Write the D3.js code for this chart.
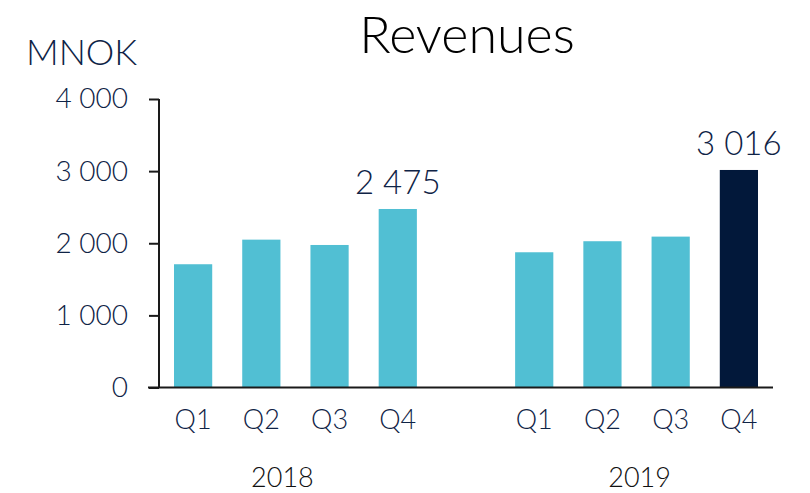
<!DOCTYPE html>
<html lang="en">
<head>
    <meta charset="UTF-8">
    <title>Revenues</title>
    <script src="https://d3js.org/d3.v7.min.js"></script>
    <style>
        body { margin: 0; background: #fff; }
        svg { display: block; font-family: Lato, "Open Sans", sans-serif; }
        .axis path, .axis line { stroke: #1a1a1a; stroke-width: 2px; }
        .axis text { fill: #0f2346; font-family: Lato, "Open Sans", sans-serif; font-size: 28px; font-weight: 300; }
    </style>
</head>
<body>
    <script>
        // Data
        const years = ["2018", "2019"];
        const quarters = ["Q1", "Q2", "Q3", "Q4"];
        const revenues2018 = [1709, 2050, 1976, 2475];
        const revenues2019 = [1875, 2028, 2092, 3016];
        const yTicks = [0, 1000, 2000, 3000, 4000];
        const labelled = ["2018-Q4", "2019-Q4"];

        const width = 810, height = 493;
        const x0 = 159, x1 = 773, y0 = 387.5, y1 = 99;

        const rows = [];
        revenues2018.forEach((v, i) => rows.push({ key: "2018-" + quarters[i], year: "2018", q: quarters[i], value: v }));
        revenues2019.forEach((v, i) => rows.push({ key: "2019-" + quarters[i], year: "2019", q: quarters[i], value: v }));

        // one empty slot between the two years
        const domain = rows.filter(d => d.year === "2018").map(d => d.key)
            .concat(["gap"], rows.filter(d => d.year === "2019").map(d => d.key));

        const x = d3.scaleBand().domain(domain).range([x0, x1]).paddingInner(0.44).paddingOuter(0.22);
        const y = d3.scaleLinear().domain([0, 4000]).range([y0, y1]);

        const svg = d3.select("body").append("svg")
            .attr("width", width)
            .attr("height", height);

        const fmt = v => d3.format(",")(v).replace(/,/g, " ");

        // Title and unit
        svg.append("text")
            .attr("x", 467).attr("y", 53)
            .attr("text-anchor", "middle")
            .style("font-size", "52px").style("font-weight", 300)
            .attr("fill", "#000")
            .text("Revenues");

        svg.append("text")
            .attr("x", 26).attr("y", 65)
            .style("font-size", "36px").style("font-weight", 300)
            .attr("fill", "#0f2346")
            .text("MNOK");

        // Bars
        svg.append("g").selectAll("rect")
            .data(rows)
            .join("rect")
            .attr("x", d => x(d.key))
            .attr("y", d => y(d.value))
            .attr("width", x.bandwidth())
            .attr("height", d => y(0) - y(d.value))
            .attr("fill", d => d.key === "2019-Q4" ? "#02183a" : "#51bfd3");

        // Value labels
        svg.append("g").selectAll("text")
            .data(rows.filter(d => labelled.includes(d.key)))
            .join("text")
            .attr("x", d => x(d.key) + x.bandwidth() / 2)
            .attr("y", d => y(d.value) - 15)
            .attr("text-anchor", "middle")
            .style("font-size", "33px").style("font-weight", 300)
            .attr("fill", "#0f2346")
            .text(d => fmt(d.value));

        // Y axis
        const yAxis = svg.append("g")
            .attr("class", "axis")
            .attr("transform", `translate(${x0},0)`)
            .call(d3.axisLeft(y).tickValues(yTicks).tickFormat(fmt).tickSize(10).tickPadding(21).tickSizeOuter(0));
        yAxis.select(".domain").attr("d", `M0,${y1}V${y0}`);

        // Baseline
        svg.append("line")
            .attr("x1", x0 - 11).attr("x2", x1)
            .attr("y1", y(0)).attr("y2", y(0))
            .attr("stroke", "#1a1a1a").attr("stroke-width", 2);

        // Quarter labels
        svg.append("g").selectAll("text")
            .data(rows)
            .join("text")
            .attr("x", d => x(d.key) + x.bandwidth() / 2)
            .attr("y", 429)
            .attr("text-anchor", "middle")
            .style("font-size", "27px").style("font-weight", 300)
            .attr("fill", "#0f2346")
            .text(d => d.q);

        // Year labels, a little left of the group centre as in the original
        const yearShift = { "2018": -13, "2019": 3 };
        svg.append("g").selectAll("text")
            .data(years)
            .join("text")
            .attr("x", yr => {
                const ks = rows.filter(d => d.year === yr).map(d => x(d.key) + x.bandwidth() / 2);
                return d3.mean(ks) + yearShift[yr];
            })
            .attr("y", 487)
            .attr("text-anchor", "middle")
            .style("font-size", "27px").style("font-weight", 300)
            .attr("fill", "#111")
            .text(yr => yr);
    </script>
</body>
</html>
